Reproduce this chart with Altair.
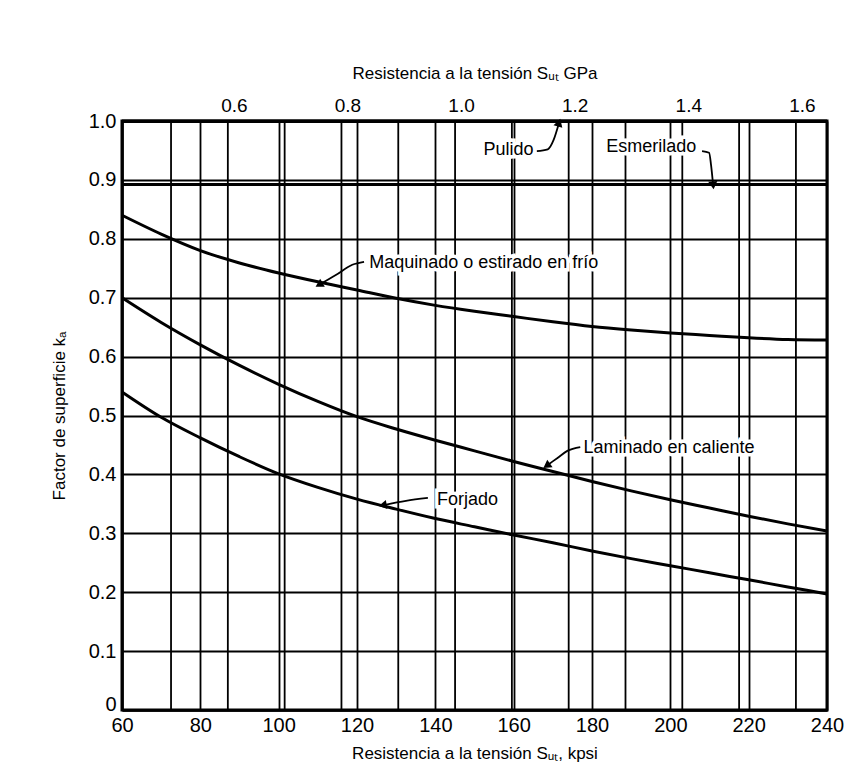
import altair as alt
import pandas as pd

# ---- data ----
kpsi = [60, 70, 80, 90, 100, 110, 120, 130, 140, 150, 160, 170, 180, 190, 200, 210, 220, 230, 240]
maquinado = [0.84, 0.808, 0.780, 0.759, 0.742, 0.727, 0.713, 0.699, 0.687, 0.677, 0.668, 0.659,
             0.651, 0.645, 0.640, 0.636, 0.632, 0.629, 0.628]
laminado = [0.70, 0.658, 0.620, 0.585, 0.553, 0.524, 0.498, 0.477, 0.458, 0.44, 0.422, 0.405,
            0.388, 0.372, 0.357, 0.343, 0.329, 0.316, 0.304]
forjado = [0.54, 0.497, 0.462, 0.43, 0.401, 0.378, 0.358, 0.341, 0.325, 0.311, 0.297, 0.284,
           0.270, 0.257, 0.245, 0.233, 0.221, 0.209, 0.197]
flat_kpsi = [60, 240]
pulido = [1.0, 1.0]
esmerilado = [0.892, 0.892]

kpsi_ticks = [60, 80, 100, 120, 140, 160, 180, 200, 220, 240]
gpa_grid = [0.5, 0.6, 0.7, 0.8, 0.9, 1.0, 1.1, 1.2, 1.3, 1.4, 1.5, 1.6]
ka_ticks = [0.0, 0.1, 0.2, 0.3, 0.4, 0.5, 0.6, 0.7, 0.8, 0.9, 1.0]
KPSI_PER_GPA = 145.04

# annotation labels and leaders (data coordinates)
ann_text = ["Pulido", "Esmerilado", "Maquinado o estirado en frío", "Laminado en caliente", "Forjado"]
ann_x = [165.1, 195.1, 123.1, 177.8, 140.4]
ann_y = [0.951, 0.956, 0.759, 0.445, 0.3565]
ann_align = ["right", "center", "left", "left", "left"]

leader_id = [0]*4 + [1]*4 + [2]*4 + [3]*4 + [4]*3
leader_x = [165.9, 168.7, 170.2, 171.5,
            208.1, 209.9, 210.4, 210.9,
            121.8, 118.8, 114.7, 110.6,
            177.0, 173.7, 171.2, 168.7,
            138.1, 132.5, 126.9]
leader_y = [0.949, 0.952, 0.968, 0.995,
            0.949, 0.946, 0.925, 0.893,
            0.761, 0.756, 0.739, 0.723,
            0.4465, 0.440, 0.428, 0.416,
            0.360, 0.355, 0.348]
tip_x = [171.5, 210.9, 110.6, 168.7, 126.9]
tip_y = [0.995, 0.893, 0.723, 0.416, 0.348]
tip_angle = [17, 174, 240, 235, 260]

FONT = "Liberation Sans"

# ---- tables ----
rows = []
for name, vals in [("Maquinado", maquinado), ("Laminado", laminado), ("Forjado", forjado)]:
    for k, v in zip(kpsi, vals):
        rows.append({"serie": name, "kpsi": k, "ka": v})
for name, vals in [("Pulido", pulido), ("Esmerilado", esmerilado)]:
    for k, v in zip(flat_kpsi, vals):
        rows.append({"serie": name, "kpsi": k, "ka": v})
curves = pd.DataFrame(rows)
leaders = pd.DataFrame({"id": leader_id, "kpsi": leader_x, "ka": leader_y,
                        "ord": list(range(len(leader_x)))})
tips = pd.DataFrame({"kpsi": tip_x, "ka": tip_y, "angle": tip_angle})
gpa_df = pd.DataFrame({"gpa": gpa_grid})

xscale = alt.Scale(domain=[60, 240], nice=False, zero=False)
yscale = alt.Scale(domain=[0, 1.0], nice=False, zero=False)

x_axis = alt.Axis(values=kpsi_ticks, grid=True, gridColor="black", gridWidth=1.8, gridOpacity=1,
                  ticks=False, labelFontSize=20, labelFont=FONT, labelColor="black", labelPadding=5,
                  labelFlush=False, format="d",
                  title="Resistencia a la tensión Sᵤₜ, kpsi", titleFont=FONT, titleFontSize=17,
                  titleFontWeight="normal", titleColor="black", titlePadding=10,
                  domainColor="black", domainWidth=2.5)
y_axis = alt.Axis(values=ka_ticks, grid=True, gridColor="black", gridWidth=1.8, gridOpacity=1,
                  ticks=False, labelFontSize=20, labelFont=FONT, labelColor="black", labelPadding=6,
                  labelFlush=False,
                  labelBaseline={"condition": {"test": "datum.value == 0", "value": "alphabetic"},
                                 "value": "middle"},
                  labelExpr="datum.value == 0 ? '0' : format(datum.value, '.1f')",
                  title="Factor de superficie kₐ", titleFont=FONT, titleFontSize=17,
                  titleFontWeight="normal", titleColor="black", titlePadding=20,
                  domainColor="black", domainWidth=2.5)

base_lines = alt.Chart(curves).mark_line(color="black", strokeWidth=3, interpolate="monotone").encode(
    x=alt.X("kpsi:Q", scale=xscale, axis=x_axis),
    y=alt.Y("ka:Q", scale=yscale, axis=y_axis),
    detail="serie:N",
)

leader_lines = alt.Chart(leaders).mark_line(color="black", strokeWidth=1.8, interpolate="monotone").encode(
    x=alt.X("kpsi:Q", scale=xscale),
    y=alt.Y("ka:Q", scale=yscale),
    detail="id:N",
    order="ord:Q",
)

arrow_heads = alt.Chart(tips).mark_point(shape="triangle", filled=True, color="black",
                                         size=85, opacity=1).encode(
    x=alt.X("kpsi:Q", scale=xscale),
    y=alt.Y("ka:Q", scale=yscale),
    angle=alt.Angle("angle:Q", scale=None),
)

labels = []
for t, xx, yy, al in zip(ann_text, ann_x, ann_y, ann_align):
    d = pd.DataFrame({"t": [t], "kpsi": [xx], "ka": [yy]})
    enc = dict(x=alt.X("kpsi:Q", scale=xscale), y=alt.Y("ka:Q", scale=yscale), text="t:N")
    halo = alt.Chart(d).mark_text(font=FONT, fontSize=18, color="white", stroke="white",
                                  strokeWidth=7, align=al, baseline="middle").encode(**enc)
    txt = alt.Chart(d).mark_text(font=FONT, fontSize=18, color="black", align=al,
                                 baseline="middle").encode(**enc)
    labels += [halo, txt]

main = alt.layer(base_lines, leader_lines, arrow_heads, *labels)

gpa_rules = alt.Chart(gpa_df).mark_rule(color="black", strokeWidth=1.8).encode(
    x=alt.X("gpa:Q",
            scale=alt.Scale(domain=[60 / KPSI_PER_GPA, 240 / KPSI_PER_GPA], nice=False, zero=False),
            axis=alt.Axis(orient="top", values=gpa_grid, grid=False, ticks=False,
                          labelExpr="(round(datum.value * 10) % 2 == 0) ? format(datum.value, '.1f') : ''",
                          labelFontSize=19, labelFont=FONT, labelColor="black", labelPadding=6,
                          labelOffset=6,
                          labelFlush=False, domainColor="black", domainWidth=3,
                          title="Resistencia a la tensión Sᵤₜ GPa", titleFont=FONT, titleFontSize=17,
                          titleFontWeight="normal", titleColor="black", titlePadding=14)),
)

chart = alt.layer(gpa_rules, main).resolve_scale(x="independent").properties(
    width=705, height=589,
    autosize=alt.AutoSizeParams(type="none"),
    padding={"left": 114, "top": 113, "right": 20, "bottom": 62},
    background="white",
).configure_view(stroke="black", strokeWidth=3)

chart.save("out.html", embed_options={"renderer": "svg", "actions": False})
